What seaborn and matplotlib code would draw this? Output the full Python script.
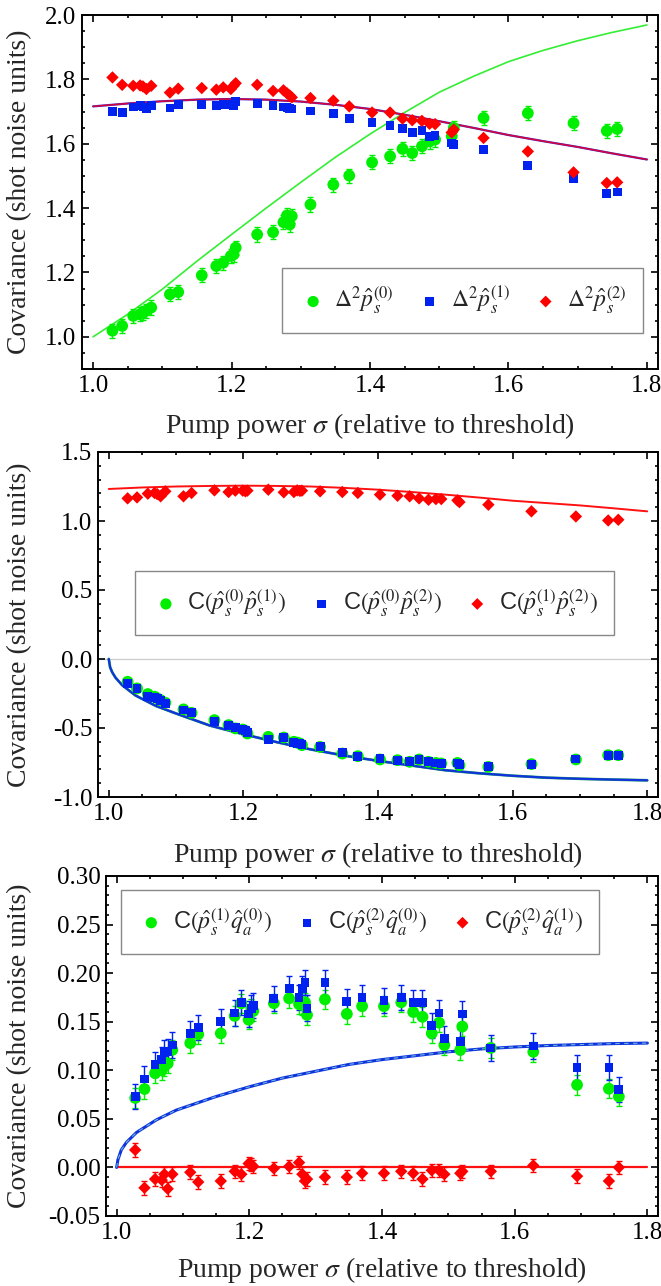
import pandas as pd
import seaborn as sns
import matplotlib.pyplot as plt
from matplotlib.ticker import MultipleLocator, FormatStrFormatter

# pump power (relative to threshold), shared by all measured series
sigma = [1.028, 1.042, 1.058, 1.068, 1.072, 1.077, 1.084, 1.111, 1.123, 1.157,
         1.178, 1.188, 1.199, 1.203, 1.206, 1.237, 1.260, 1.275, 1.280, 1.284,
         1.287, 1.314, 1.347, 1.370, 1.403, 1.429, 1.447, 1.461, 1.475, 1.486,
         1.494, 1.518, 1.521, 1.564, 1.628, 1.694, 1.742, 1.757]

# panel 1: variances
var_p0 = [1.019, 1.034, 1.065, 1.070, 1.075, 1.081, 1.091, 1.132, 1.139, 1.191,
          1.220, 1.230, 1.251, 1.256, 1.277, 1.318, 1.325, 1.356, 1.377, 1.349,
          1.375, 1.411, 1.473, 1.501, 1.542, 1.561, 1.584, 1.571, 1.592, 1.607,
          1.613, 1.623, 1.649, 1.680, 1.695, 1.664, 1.640, 1.646]
var_p1 = [1.700, 1.697, 1.714, 1.718, 1.714, 1.708, 1.718, 1.711, 1.723, 1.723,
          1.718, 1.723, 1.723, 1.718, 1.731, 1.724, 1.718, 1.714, 1.712, 1.709,
          1.708, 1.702, 1.693, 1.678, 1.666, 1.657, 1.647, 1.635, 1.640, 1.623,
          1.625, 1.602, 1.597, 1.582, 1.532, 1.492, 1.445, 1.450]
var_p2 = [1.806, 1.783, 1.780, 1.781, 1.778, 1.770, 1.780, 1.759, 1.771, 1.773,
          1.768, 1.775, 1.770, 1.780, 1.788, 1.783, 1.764, 1.766, 1.757, 1.750,
          1.744, 1.742, 1.734, 1.716, 1.697, 1.697, 1.678, 1.673, 1.671, 1.662,
          1.661, 1.635, 1.644, 1.618, 1.576, 1.511, 1.478, 1.480]

# panel 2: correlations between pump modes
c_p0p1 = [-0.165, -0.213, -0.254, -0.273, -0.285, -0.298, -0.317, -0.365, -0.390, -0.443,
          -0.479, -0.503, -0.511, -0.520, -0.540, -0.564, -0.569, -0.600, -0.606, -0.612,
          -0.624, -0.637, -0.685, -0.704, -0.728, -0.733, -0.745, -0.728, -0.745, -0.753,
          -0.757, -0.753, -0.770, -0.782, -0.762, -0.728, -0.697, -0.697]
c_p0p2 = [-0.177, -0.215, -0.269, -0.280, -0.288, -0.298, -0.320, -0.370, -0.390, -0.455,
          -0.480, -0.496, -0.511, -0.520, -0.535, -0.583, -0.569, -0.607, -0.610, -0.612,
          -0.620, -0.632, -0.680, -0.704, -0.723, -0.733, -0.745, -0.728, -0.745, -0.753,
          -0.757, -0.753, -0.765, -0.778, -0.762, -0.725, -0.697, -0.697]
c_p1p2 = [1.164, 1.171, 1.198, 1.203, 1.195, 1.179, 1.215, 1.179, 1.203, 1.222,
          1.210, 1.220, 1.220, 1.215, 1.220, 1.227, 1.208, 1.210, 1.222, 1.218,
          1.220, 1.215, 1.210, 1.203, 1.191, 1.183, 1.179, 1.164, 1.154, 1.159,
          1.159, 1.150, 1.137, 1.118, 1.070, 1.033, 1.004, 1.009]

# panel 3: pump / amplitude correlations
c_p1q0 = [0.0715, 0.0807, 0.097, 0.100, 0.104, 0.107, 0.121, 0.128, 0.137, 0.138,
          0.156, 0.169, 0.152, 0.163, 0.161, 0.169, 0.174, 0.168, 0.167, 0.170,
          0.157, 0.173, 0.158, 0.166, 0.166, 0.170, 0.160, 0.155, 0.138, 0.149,
          0.126, 0.121, 0.145, 0.123, 0.119, 0.085, 0.081, 0.073]
c_p2q0 = [0.073, 0.091, 0.106, 0.111, 0.118, 0.119, 0.126, 0.138, 0.144, 0.150,
          0.159, 0.170, 0.158, 0.164, 0.167, 0.174, 0.184, 0.175, 0.184, 0.190,
          0.164, 0.190, 0.171, 0.175, 0.172, 0.175, 0.170, 0.170, 0.146, 0.159,
          0.133, 0.130, 0.158, 0.123, 0.125, 0.103, 0.103, 0.080]
c_p2q1 = [0.018, -0.021, -0.012, -0.013, -0.007, -0.022, -0.007, -0.005, -0.015, -0.014,
          -0.004, -0.007, 0.004, 0.003, 0.001, -0.001, 0.001, 0.005, -0.007, -0.014,
          -0.012, -0.010, -0.010, -0.006, -0.006, -0.004, -0.006, -0.012, -0.003, -0.003,
          -0.007, -0.006, -0.004, -0.004, 0.002, -0.009, -0.014, 0.000]

# theory curves
th_sig = [1.0, 1.05, 1.1, 1.15, 1.2, 1.25, 1.3, 1.35, 1.4, 1.45, 1.5, 1.55, 1.6,
          1.65, 1.7, 1.75, 1.8]
th_var0 = [1.000, 1.070, 1.148, 1.235, 1.318, 1.400, 1.480, 1.558, 1.630, 1.697,
           1.760, 1.810, 1.855, 1.890, 1.920, 1.946, 1.969]
th_var12 = [1.716, 1.725, 1.732, 1.737, 1.739, 1.737, 1.731, 1.721, 1.708, 1.690,
            1.670, 1.649, 1.627, 1.608, 1.590, 1.570, 1.551]
th_c12 = [1.232, 1.243, 1.250, 1.254, 1.256, 1.254, 1.250, 1.240, 1.227, 1.210,
          1.191, 1.170, 1.147, 1.130, 1.113, 1.092, 1.070]

th_sig_b = [1.0, 1.002, 1.005, 1.01, 1.02, 1.04, 1.07, 1.1, 1.15, 1.2, 1.25, 1.3,
            1.35, 1.4, 1.45, 1.5, 1.55, 1.6, 1.65, 1.7, 1.75, 1.8]
th_c01 = [0.0, -0.06, -0.095, -0.135, -0.19, -0.265, -0.34, -0.395, -0.482, -0.545,
          -0.603, -0.655, -0.700, -0.738, -0.772, -0.806, -0.828, -0.846, -0.860,
          -0.868, -0.874, -0.879]
th_sig_c = [1.0, 1.002, 1.007, 1.015, 1.03, 1.06, 1.09, 1.15, 1.2, 1.25, 1.3, 1.35,
            1.4, 1.45, 1.5, 1.55, 1.6, 1.65, 1.7, 1.75, 1.8]
th_cq = [0.0, 0.008, 0.018, 0.026, 0.036, 0.049, 0.059, 0.073, 0.083, 0.092, 0.099,
         0.106, 0.111, 0.115, 0.119, 0.122, 0.124, 0.1255, 0.1265, 0.1275, 0.128]

GREEN, BLUE, RED = '#00ee00', '#0022ee', '#ff0000'

sns.set_theme(style="ticks")
plt.rcParams['font.family'] = ['Liberation Serif', 'DejaVu Serif']
plt.rcParams['mathtext.fontset'] = 'stix'

fig = plt.figure(figsize=(6.61, 12.86), dpi=100)
W, H = 661, 1286


def make_ax(l, r, t, b):
    return fig.add_axes([l / W, 1 - b / H, (r - l) / W, (b - t) / H])


axes = [make_ax(82, 658, 15, 369), make_ax(98, 658, 452, 797), make_ax(106, 658, 876, 1216)]


def points(ax, y, color, marker, s, label, err=None):
    if err is not None:
        ax.errorbar(sigma, y, yerr=err, fmt='none', ecolor=color,
                    elinewidth=1.0, capsize=2, capthick=1.0, zorder=2)
    sns.scatterplot(x=sigma, y=y, ax=ax, color=color, marker=marker, s=s,
                    edgecolor='none', label=label, zorder=3)


def style_axes(ax, ymaj, ymin, fmt, ylim):
    ax.set_xlim(0.984, 1.816)
    ax.set_ylim(*ylim)
    ax.xaxis.set_major_locator(MultipleLocator(0.2))
    ax.xaxis.set_minor_locator(MultipleLocator(0.05))
    ax.xaxis.set_major_formatter(FormatStrFormatter('%.1f'))
    ax.yaxis.set_major_locator(MultipleLocator(ymaj))
    ax.yaxis.set_minor_locator(MultipleLocator(ymin))
    ax.yaxis.set_major_formatter(FormatStrFormatter(fmt))
    ax.tick_params(which='both', direction='in', top=True, right=True,
                   width=1.2, colors='black', labelsize=18, pad=4)
    ax.tick_params(which='major', length=5)
    ax.tick_params(which='minor', length=2.5)
    for sp in ax.spines.values():
        sp.set_linewidth(1.4)
        sp.set_color('black')
    ax.set_xlabel(r'Pump power $\sigma$ (relative to threshold)', fontsize=20)
    ax.set_ylabel('Covariance (shot noise units)', fontsize=20)


def legend(ax, cx, cy):
    ax.legend(loc='center', bbox_to_anchor=(cx, cy), ncol=3,
              prop={'family': 'Liberation Sans', 'size': 17},
              frameon=True, fancybox=False, framealpha=1, edgecolor='#888888',
              handletextpad=0.3, columnspacing=0.9, handlelength=1.2,
              borderpad=0.7, markerscale=0.95)


# ---- panel 1
ax = axes[0]
sns.lineplot(x=th_sig, y=th_var0, ax=ax, color='#33ee33', lw=1.2, zorder=1)
sns.lineplot(x=th_sig, y=th_var12, ax=ax, color='#4422cc', lw=1.6, zorder=1)
sns.lineplot(x=th_sig, y=th_var12, ax=ax, color='#ee0022', lw=1.1, alpha=0.85, zorder=1)
points(ax, var_p0, GREEN, 'o', 72, r'$\Delta^2\hat{p}_s^{(0)}$', err=0.022)
points(ax, var_p1, BLUE, 's', 40, r'$\Delta^2\hat{p}_s^{(1)}$')
points(ax, var_p2, RED, 'D', 40, r'$\Delta^2\hat{p}_s^{(2)}$')
style_axes(ax, 0.2, 0.05, '%.1f', (0.9, 2.0))
legend(ax, 0.661, 0.193)

# ---- panel 2
ax = axes[1]
ax.axhline(0, color='#cccccc', lw=0.9, zorder=0)
sns.lineplot(x=th_sig, y=th_c12, ax=ax, color='#ff1111', lw=1.4, zorder=1)
sns.lineplot(x=th_sig_b, y=th_c01, ax=ax, color='#22aa55', lw=2.0, zorder=1)
sns.lineplot(x=th_sig_b, y=th_c01, ax=ax, color='#1133dd', lw=1.6, zorder=1)
points(ax, c_p0p1, GREEN, 'o', 72, r'$\mathregular{C}(\hat{p}_s^{(0)}\hat{p}_s^{(1)})$')
points(ax, c_p0p2, BLUE, 's', 40, r'$\mathregular{C}(\hat{p}_s^{(0)}\hat{p}_s^{(2)})$')
points(ax, c_p1p2, RED, 'D', 40, r'$\mathregular{C}(\hat{p}_s^{(1)}\hat{p}_s^{(2)})$')
style_axes(ax, 0.5, 0.1, '%.1f', (-1.0, 1.5))
legend(ax, 0.494, 0.562)

# ---- panel 3
ax = axes[2]
sns.lineplot(x=[1.0, 1.8], y=[0.0, 0.0], ax=ax, color='#ff1111', lw=1.6, zorder=1)
sns.lineplot(x=th_sig_c, y=th_cq, ax=ax, color='#1133dd', lw=2.2, zorder=1)
ax.plot(th_sig_c, th_cq, color='#66bbdd', lw=0.8, ls=(0, (4, 4)), zorder=1)
points(ax, c_p1q0, GREEN, 'o', 72, r'$\mathregular{C}(\hat{p}_s^{(1)}\hat{q}_a^{(0)})$', err=0.010)
points(ax, c_p2q0, BLUE, 's', 40, r'$\mathregular{C}(\hat{p}_s^{(2)}\hat{q}_a^{(0)})$', err=0.013)
points(ax, c_p2q1, RED, 'D', 40, r'$\mathregular{C}(\hat{p}_s^{(2)}\hat{q}_a^{(1)})$', err=0.007)
style_axes(ax, 0.05, 0.01, '%.2f', (-0.05, 0.30))
legend(ax, 0.46, 0.865)

for ax, lx, xy in zip(axes, [-0.087, -0.118, -0.134], [-0.12, -0.125, -0.115]):
    ax.yaxis.set_label_coords(lx, 0.5)
    ax.xaxis.set_label_coords(0.5, xy)

plt.savefig("out.png", dpi=100)
